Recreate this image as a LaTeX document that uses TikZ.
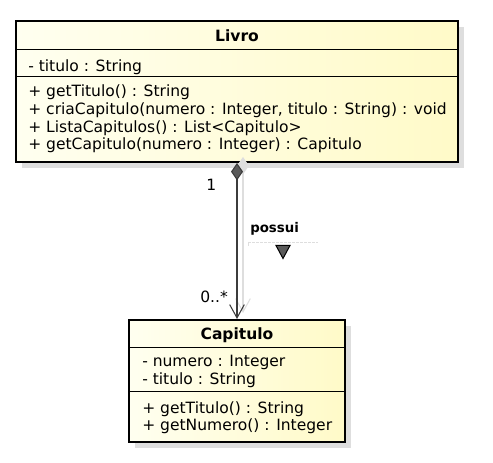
\documentclass[tikz,border=0pt]{standalone}
\usepackage{fontspec}
\setmainfont{DejaVu Sans}
\usetikzlibrary{arrows.meta}

\definecolor{boxlight}{RGB}{255,255,240}
\definecolor{boxdark}{RGB}{255,250,200}
\definecolor{shadowgray}{RGB}{222,222,222}
\definecolor{linegray}{RGB}{60,60,60}
\definecolor{tipgray}{RGB}{90,90,90}

\tikzset{
  classbox/.style={draw=black, line width=1.5pt, inner sep=0pt, left color=boxlight, right color=boxdark},
  classshadow/.style={fill=shadowgray, draw=none},
  classline/.style={draw=black, line width=0.75pt},
  member/.style={anchor=base west, inner sep=0pt},
  classname/.style={anchor=base, inner sep=0pt, font=\bfseries},
  assoc/.style={draw=linegray, line width=0.8pt, {Diamond[length=13pt,width=9pt,fill=tipgray]}-{Straight Barb[length=10pt,width=11pt]}},
  assocshadow/.style={draw=shadowgray, line width=0.8pt, {Diamond[length=13pt,width=9pt,fill=shadowgray]}-{Straight Barb[length=10pt,width=11pt]}},
}

\begin{document}
\begin{tikzpicture}[x=0.75pt,y=0.75pt,yscale=-1,xscale=1]
  \fontsize{11.65}{14}\selectfont
  \useasboundingbox (0,0) rectangle (493,463);

  %Shape: Shadows
  \fill [classshadow] (22,27) rectangle (464,168);
  \fill [classshadow] (135,326) rectangle (351,448);

  %Shape: Class Livro
  \node (livro) [classbox, minimum width=331.5pt, minimum height=105.75pt] at (237,91.5) {};
  \draw [classline] (16,49.5) -- (458,49.5);
  \draw [classline] (16,76.5) -- (458,76.5);

  %Shape: Class Capitulo
  \node (capitulo) [classbox, minimum width=162pt, minimum height=91.5pt] at (237,381) {};
  \draw [classline] (129,347.5) -- (345,347.5);
  \draw [classline] (129,392) -- (345,392);

  %Straight Lines: association shadow
  \draw [assocshadow] ([xshift=4.5pt,yshift=-4.5pt]livro.south) -- ([xshift=4.5pt,yshift=-4.5pt]capitulo.north);
  %Straight Lines: association
  \draw [assoc] (livro.south) -- (capitulo.north);

  %Straight Lines: name direction
  \draw [shadowgray, dash pattern=on 2pt off 1pt] (248,242) -- (318,242);
  \draw [shadowgray] (248,242) -- (248,246);
  %Shape: Triangle
  \draw [black, fill=tipgray, line width=0.75pt] (276,245.5) -- (290,245.5) -- (283,258.5) -- cycle;

  % Text Node
  \node (livroName) [classname] at (237,42) {Livro};
  % Text Node
  \node (livroAttr) [member] at (28,72) {- titulo : String};
  % Text Node
  \node (livroOpA) [member] at (28,97) {+ getTitulo() : String};
  % Text Node
  \node (livroOpB) [member] at (28,114.7) {+ criaCapitulo(numero : Integer, titulo : String) : void};
  % Text Node
  \node (livroOpC) [member] at (28,132.4) {+ ListaCapitulos() : List<Capitulo>};
  % Text Node
  \node (livroOpD) [member] at (28,150) {+ getCapitulo(numero : Integer) : Capitulo};

  % Text Node
  \node (capName) [classname] at (237,340) {Capitulo};
  % Text Node
  \node (capAttrA) [member] at (142,367) {- numero : Integer};
  % Text Node
  \node (capAttrB) [member] at (142,385) {- titulo : String};
  % Text Node
  \node (capOpA) [member] at (142,413) {+ getTitulo() : String};
  % Text Node
  \node (capOpB) [member] at (142,431) {+ getNumero() : Integer};

  % Text Node
  \node (multOne) [member] at (206,191) {1};
  % Text Node
  \node (multMany) [member] at (200,303) {0..*};
  % Text Node
  \node (assocName) [member, font=\bfseries\fontsize{10}{12}\selectfont] at (250,233) {possui};
\end{tikzpicture}
\end{document}
